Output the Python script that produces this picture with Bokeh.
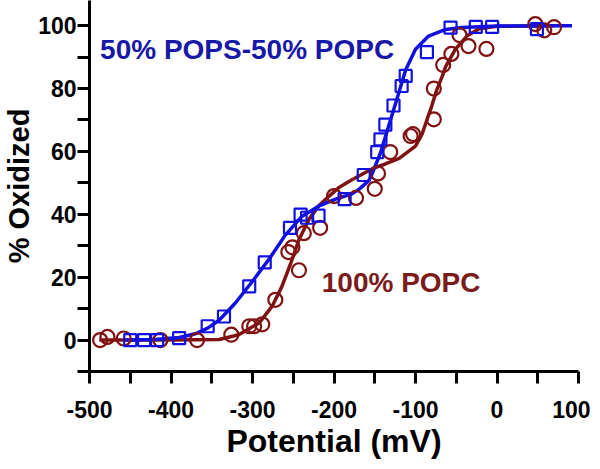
from bokeh.plotting import figure
from bokeh.models import Range1d, FixedTicker, PrintfTickFormatter
from bokeh.core.properties import value
from bokeh.embed import file_html
from bokeh.resources import INLINE

# 100% POPC (circles)
popc_x = [-487, -478, -458, -413, -368, -326, -304, -298, -288, -272, -256, -251,
          -243, -237, -217, -200, -173, -150, -146, -131, -106, -103, -77.5, -77.5,
          -66, -56, -46, -35, -13, 47, 58, 70]
popc_y = [0, 1.0, 0.5, 0, 0, 1.7, 4.4, 4.4, 5.0, 12.8, 28, 29.5,
          22.2, 34, 35.7, 45.8, 45.2, 48.1, 53, 59.8, 64.9, 65.5, 70.2, 80,
          87.5, 91, 97, 93.5, 92.6, 100.5, 98.5, 99.5]

# 50% POPS-50% POPC (squares)
pops_x = [-450, -433, -417, -390, -355, -335, -304, -285, -254, -241, -233, -219,
          -187, -163.5, -147, -143, -137, -127, -117, -112, -86, -57, -26, -6, 49]
pops_y = [0, 0, 0, 0.6, 4.4, 7.5, 17.1, 24.7, 35.7, 39.9, 38.9, 39.6,
          44.8, 52.5, 59.8, 63.8, 68.5, 74.6, 80.8, 84, 91.6, 99.4, 99.6, 99.6, 98.9]

# fitted curves
popc_fit_x = [-488, -400, -341, -317, -292, -276, -264, -253, -243, -231, -219, -206,
              -194, -178, -153, -137, -120, -100, -92, -86, -80, -74, -67, -63, -51,
              -37, -22, 0, 70]
popc_fit_y = [0, 0, 0.2, 1.7, 5.4, 10.7, 17, 24.5, 31.9, 38.3, 42.6, 45.8,
              48.5, 51, 54.5, 56, 57.8, 61.7, 65.5, 70, 74.5, 79.5, 84, 87, 92.5,
              96.7, 99, 99.8, 100]

pops_fit_x = [-455, -420, -390, -370, -355, -341, -321, -300, -280, -260, -240, -219,
              -198, -178, -169, -157, -153, -143, -133, -123, -112, -100, -84, -63,
              -43, 0, 92]
pops_fit_y = [0, 0.2, 0.8, 2, 3.8, 6.3, 11.8, 18.7, 25.6, 33.3, 39.2, 42.6,
              44.8, 46.5, 48, 50.8, 53, 59.5, 68, 76.5, 86, 92.5, 96.7, 98.8,
              99.4, 99.9, 100]

x_major = [-500, -400, -300, -200, -100, 0, 100]
x_minor = [-450, -350, -250, -150, -50, 50]
y_major = [0, 20, 40, 60, 80, 100]
y_minor = [-10, 10, 30, 50, 70, 90]

labels = ["50% POPS-50% POPC", "100% POPC"]
label_x = [-487, -215]
label_y = [92.3, 18.3]

BLUE = "#1010e0"
BLUE_TXT = "#1818a8"
RED = "#801212"
RED_TXT = "#7a1c1c"
FONT = "Liberation Sans"

p = figure(frame_width=489, frame_height=371,
           x_range=Range1d(-500, 100), y_range=Range1d(-10, 108),
           output_backend="svg", toolbar_location=None,
           min_border_left=83, min_border_right=12, min_border_top=0, min_border_bottom=86)
p.outline_line_color = None
p.xgrid.visible = False
p.ygrid.visible = False
p.background_fill_color = "white"

p.line(popc_fit_x, popc_fit_y, line_color=RED, line_width=3.5)
p.line(pops_fit_x, pops_fit_y, line_color=BLUE, line_width=3.5)
p.scatter(popc_x, popc_y, marker="circle", size=14, fill_color=None,
          line_color=RED, line_width=2.2)
p.scatter(pops_x, pops_y, marker="square", size=12, fill_color=None,
          line_color=BLUE, line_width=2.2)

p.text(x=[label_x[0]], y=[label_y[0]], text=[labels[0]], text_color=BLUE_TXT,
       text_font=value(FONT), text_font_size="28px", text_font_style="bold",
       text_baseline="middle", text_align="left")
p.text(x=[label_x[1]], y=[label_y[1]], text=[labels[1]], text_color=RED_TXT,
       text_font=value(FONT), text_font_size="28px", text_font_style="bold",
       text_baseline="middle", text_align="left")

for ax in (p.xaxis[0], p.yaxis[0]):
    ax.axis_line_width = 3
    ax.major_tick_line_width = 3
    ax.minor_tick_line_width = 3
    ax.major_tick_out = 12
    ax.minor_tick_out = 12
    ax.major_tick_in = 0
    ax.minor_tick_in = 0
    ax.major_label_text_font = FONT
    ax.major_label_text_font_size = "23px"
    ax.major_label_text_font_style = "bold"
    ax.major_label_text_color = "black"
    ax.axis_label_text_font = FONT
    ax.axis_label_text_font_style = "bold"
    ax.axis_label_text_color = "black"
    ax.formatter = PrintfTickFormatter(format="%d")

p.xaxis.ticker = FixedTicker(ticks=x_major, minor_ticks=x_minor)
p.yaxis.ticker = FixedTicker(ticks=y_major, minor_ticks=y_minor)
p.xaxis.axis_label = "Potential (mV)"
p.yaxis.axis_label = "% Oxidized"
p.xaxis.axis_label_text_font_size = "32px"
p.yaxis.axis_label_text_font_size = "29px"
p.xaxis.major_label_standoff = 17
p.yaxis.major_label_standoff = 1
p.xaxis.axis_label_standoff = 2
p.yaxis.axis_label_standoff = 0

open("out.html", "w").write(file_html(p, INLINE))
